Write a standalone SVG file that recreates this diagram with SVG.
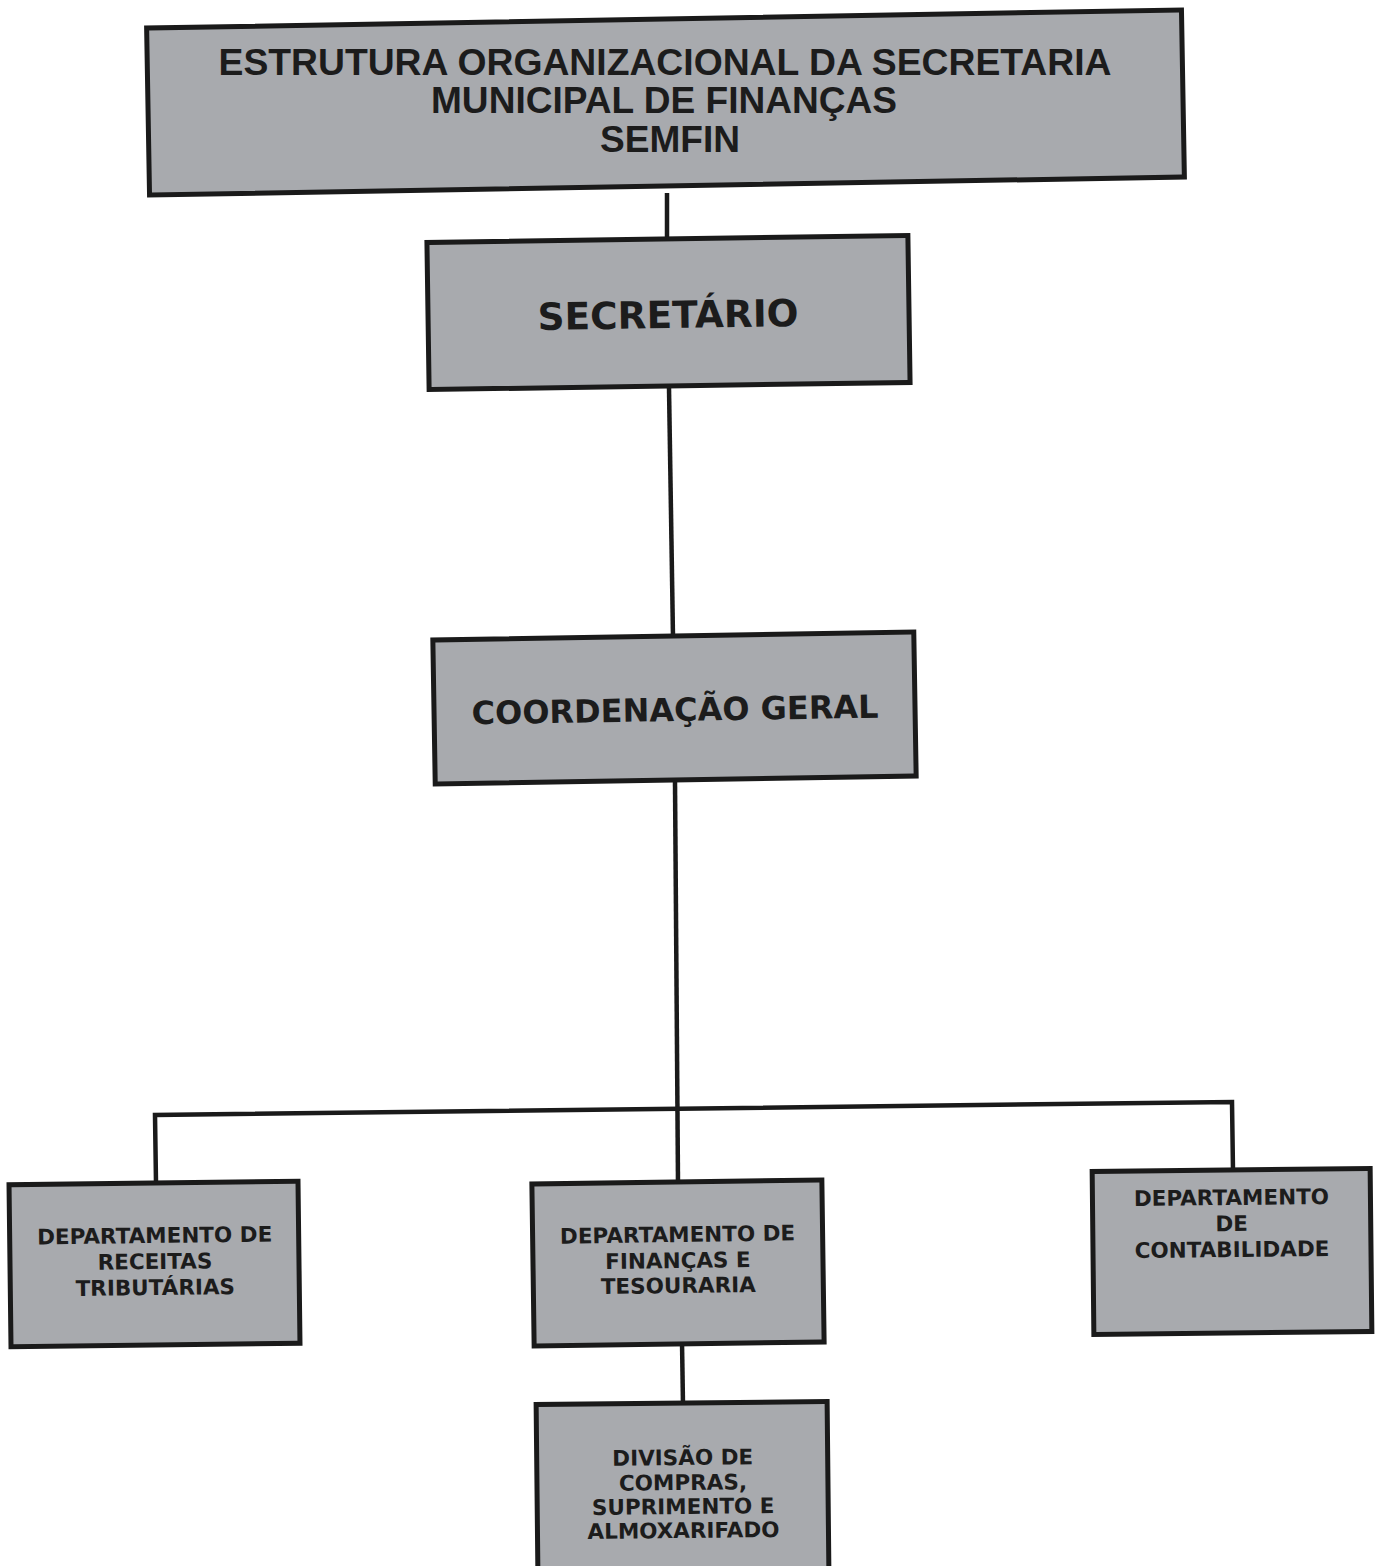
<svg xmlns="http://www.w3.org/2000/svg" width="1380" height="1566" viewBox="0 0 1380 1566">
<style>
.box{fill:#a8aaae;stroke:#1a1a1a;stroke-width:5}
.t1{font-family:"Liberation Sans",Arial,sans-serif;font-weight:bold;font-size:36px;fill:#1c1c1c;text-anchor:middle}
.t2{font-family:"DejaVu Sans",Verdana,sans-serif;font-weight:bold;fill:#1c1c1c;text-anchor:middle}
.s{font-size:21.5px}
.c{fill:none;stroke:#1a1a1a;stroke-width:4.5;stroke-linejoin:miter}
</style>
<rect width="1380" height="1566" fill="#ffffff"/>
<g id="connectors">
<line class="c" x1="667" y1="193" x2="667" y2="240"/>
<line class="c" x1="669" y1="388" x2="673" y2="637"/>
<line class="c" x1="675" y1="782" x2="678" y2="1182"/>
<polyline class="c" points="156,1183 155,1115 1232,1102 1233,1171"/>
<line class="c" x1="682" y1="1342" x2="683" y2="1405"/>
</g>
<g id="title">
<rect class="box" x="148" y="19" width="1035" height="167" transform="rotate(-1 665.5 102.5)"/>
<text class="t1" x="665" y="75" textLength="893" lengthAdjust="spacingAndGlyphs">ESTRUTURA ORGANIZACIONAL DA SECRETARIA</text>
<text class="t1" x="664" y="113" textLength="466" lengthAdjust="spacingAndGlyphs">MUNICIPAL DE FINANÇAS</text>
<text class="t1" x="670" y="152" textLength="140" lengthAdjust="spacingAndGlyphs">SEMFIN</text>
</g>
<g id="secretario" transform="rotate(-0.85 668.5 312.5)">
<rect class="box" x="428" y="239" width="481" height="147"/>
<text class="t2" x="668" y="328" font-size="37.5">SECRETÁRIO</text>
</g>
<g id="coordenacao" transform="rotate(-0.95 674.5 708)">
<rect class="box" x="434" y="636" width="481" height="144"/>
<text class="t2" x="675" y="721" font-size="32">COORDENAÇÃO GERAL</text>
</g>
<g id="receitas" transform="rotate(-0.7 154.5 1264)">
<rect class="box" x="10" y="1183" width="289" height="162"/>
<text class="t2 s" x="155" y="1243">DEPARTAMENTO DE</text>
<text class="t2 s" x="155" y="1269">RECEITAS</text>
<text class="t2 s" x="155" y="1295">TRIBUTÁRIAS</text>
</g>
<g id="financas" transform="rotate(-0.8 678 1263)">
<rect class="box" x="533" y="1182" width="290" height="162"/>
<text class="t2 s" x="678" y="1242">DEPARTAMENTO DE</text>
<text class="t2 s" x="678" y="1268">FINANÇAS E</text>
<text class="t2 s" x="678" y="1293">TESOURARIA</text>
</g>
<g id="contabilidade" transform="rotate(-0.6 1232 1251)">
<rect class="box" x="1093" y="1170" width="278" height="163"/>
<text class="t2 s" x="1232" y="1205">DEPARTAMENTO</text>
<text class="t2 s" x="1232" y="1231">DE</text>
<text class="t2 s" x="1232" y="1257">CONTABILIDADE</text>
</g>
<g id="divisao" transform="rotate(-0.6 682.5 1487)">
<rect class="box" x="537" y="1403" width="291" height="168"/>
<text class="t2 s" x="683" y="1465">DIVISÃO DE</text>
<text class="t2 s" x="683" y="1490">COMPRAS,</text>
<text class="t2 s" x="683" y="1514">SUPRIMENTO E</text>
<text class="t2 s" x="683" y="1538">ALMOXARIFADO</text>
</g>
</svg>
